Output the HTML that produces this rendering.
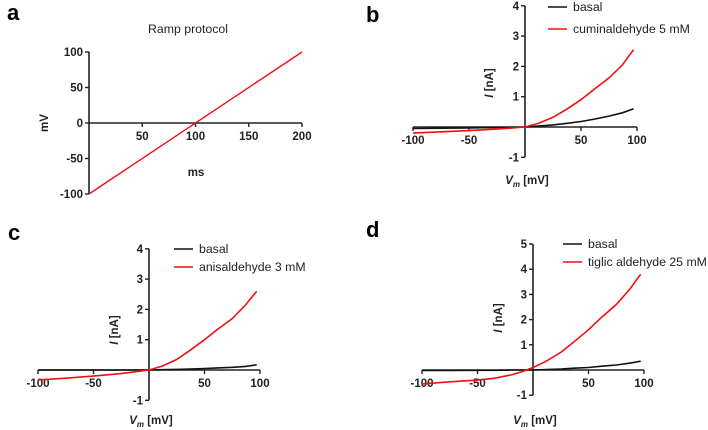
<!DOCTYPE html>
<html><head><meta charset="utf-8"><style>
body{margin:0;background:#fff}
svg{display:block;font-family:"Liberation Sans",Arial,sans-serif}
.t{font-size:11.5px;font-weight:bold;fill:#222}
.pl{font-size:22px;font-weight:bold;fill:#000}
.lg{font-size:12.3px;fill:#222}
</style></head><body>
<svg id="fig" width="708" height="430" viewBox="0 0 708 430"></svg>
<script>
// Panel a: ramp protocol
const rampMs=[0,200];
const rampMv=[-100,100];
const rampXTicks=[50,100,150,200];
const rampYTicks=[100,50,0,-50,-100];
// Panel b
const bV=[-100,-75,-50,-25,0,12,25,37,50,62,75,87,97];
const bRed=[-0.2,-0.16,-0.12,-0.07,0,0.12,0.32,0.58,0.9,1.25,1.62,2.05,2.55];
const bBlack=[-0.05,-0.04,-0.03,-0.015,0,0.03,0.07,0.12,0.18,0.26,0.36,0.47,0.6];
// Panel c
const cV=[-100,-75,-50,-25,0,12,25,37,50,62,75,87,97];
const cRed=[-0.33,-0.27,-0.2,-0.12,0,0.13,0.35,0.65,1.0,1.35,1.7,2.15,2.6];
const cBlack=[0,0,0,0,0,0.01,0.02,0.03,0.05,0.07,0.09,0.12,0.17];
// Panel d
const dV=[-100,-75,-50,-35,-20,-10,0,12,25,37,50,62,75,87,97];
const dRed=[-0.55,-0.47,-0.4,-0.33,-0.2,-0.07,0.1,0.35,0.7,1.12,1.6,2.1,2.6,3.2,3.8];
const dBlack=[-0.02,-0.02,-0.01,-0.01,0,0,0,0.02,0.04,0.07,0.1,0.15,0.2,0.27,0.35];
const ivXTicks=[-100,-50,50,100];

const NS="http://www.w3.org/2000/svg";
const svg=document.getElementById('fig');
function el(tag,attrs,parent){const e=document.createElementNS(NS,tag);for(const k in attrs)e.setAttribute(k,attrs[k]);(parent||svg).appendChild(e);return e;}
function txt(x,y,s,cls,anchor,parent){const t=el('text',{x:x,y:y,class:cls,'text-anchor':anchor||'start'},parent);t.textContent=s;return t;}

// Panel letters
[['a',7,20],['b',366,22],['c',8,240],['d',366,237]].forEach(p=>{
  const t=txt(p[1],p[2],p[0],'pl');
  
  
});

// ---------- Panel a ----------
(function(){
  const g=el('g',{});
  
  
  const x=v=>89+(v-0)*(302-89)/200;
  const y=v=>123-v*(71/100);
  const ttl=txt(188,33,'Ramp protocol','lg','middle',g);
  
  
  const ya=el('line',{x1:x(0),y1:y(100),x2:x(0),y2:y(-100),stroke:'#222','stroke-width':1.6},g);
  
  
  const xa=el('line',{x1:x(0),y1:y(0),x2:x(200),y2:y(0),stroke:'#222','stroke-width':1.6},g);
  
  
  rampYTicks.forEach(v=>{
    el('line',{x1:x(0)-4,y1:y(v),x2:x(0),y2:y(v),stroke:'#222','stroke-width':1.4},g);
    const t=txt(x(0)-6,y(v)+4,String(v),'t','end',g);
    
    
  });
  rampXTicks.forEach(v=>{
    el('line',{x1:x(v),y1:y(0),x2:x(v),y2:y(0)+4,stroke:'#222','stroke-width':1.4},g);
    const t=txt(x(v),y(0)+17,String(v),'t','middle',g);
    
    
  });
  const yl=txt(0,0,'mV','t','middle',g);
  yl.setAttribute('transform','translate(48,123) rotate(-90)');
  
  
  const xl=txt(196,176,'ms','t','middle',g);
  
  
  const ln=el('line',{x1:x(rampMs[0]),y1:y(rampMv[0]),x2:x(rampMs[1]),y2:y(rampMv[1]),stroke:'#f01010','stroke-width':1.4},g);
  
  
})();

// ---------- IV panels ----------
function ivPanel(o){
  const g=el('g',{});
  
  
  const x=v=>o.x0+v*(o.x100-o.x0)/100;
  const y=v=>o.y0-v*o.py;
  const ya=el('line',{x1:x(0),y1:y(o.ymax),x2:x(0),y2:y(-1),stroke:'#222','stroke-width':1.6},g);
  
  
  const xa=el('line',{x1:x(-100),y1:y(0),x2:x(100),y2:y(0),stroke:'#222','stroke-width':1.6},g);
  
  
  for(let v=-1;v<=o.ymax;v++){
    if(v===0) continue;
    el('line',{x1:x(0)-4,y1:y(v),x2:x(0),y2:y(v),stroke:'#222','stroke-width':1.4},g);
    const t=txt(x(0)-6,y(v)+4,String(v),'t','end',g);
    
    
  }
  ivXTicks.forEach(v=>{
    el('line',{x1:x(v),y1:y(0),x2:x(v),y2:y(0)+4,stroke:'#222','stroke-width':1.4},g);
    const t=txt(x(v),y(0)+17,String(v),'t','middle',g);
    
    
  });
  const yl=el('text',{class:'t','text-anchor':'middle',transform:'translate('+o.ylx+','+o.yly+') rotate(-90)'},g);
  yl.innerHTML='<tspan font-style="italic">I</tspan> [nA]';
  
  
  const xl=el('text',{x:x(0)+2,y:o.xly,class:'t','text-anchor':'middle'},g);
  xl.innerHTML='<tspan font-style="italic">V</tspan><tspan font-style="italic" font-size="8" dy="3">m</tspan><tspan dy="-3"> [mV]</tspan>';
  
  
  const pts=(vs,is)=>vs.map((v,i)=>x(v).toFixed(1)+','+y(is[i]).toFixed(1)).join(' ');
  const bl=el('polyline',{points:pts(o.v,o.black),fill:'none',stroke:'#111','stroke-width':1.6},g);
  
  
  const rd=el('polyline',{points:pts(o.v,o.red),fill:'none',stroke:'#f01010','stroke-width':1.6},g);
  
  
  // legend
  [['basal','#111',o.lgy],[o.label,'#f01010',o.lgy+o.lgdy]].forEach((e,i)=>{
    const lg=el('g',{},g);
    
    
    el('line',{x1:o.lgx,y1:e[2],x2:o.lgx+19,y2:e[2],stroke:e[1],'stroke-width':1.6},lg);
    txt(o.lgx+25,e[2]+4,e[0],'lg','start',lg);
  });
}
ivPanel({name:'panel-b-chart',x0:525,x100:637,y0:127,py:30.3,ymax:4,v:bV,red:bRed,black:bBlack,
  ylx:493,yly:83,xly:184,lgx:548,lgy:7,lgdy:22,label:'cuminaldehyde 5 mM'});
ivPanel({name:'panel-c-chart',x0:149,x100:260,y0:370,py:30.3,ymax:4,v:cV,red:cRed,black:cBlack,
  ylx:118,yly:330,xly:424,lgx:174,lgy:249,lgdy:18,label:'anisaldehyde 3 mM'});
ivPanel({name:'panel-d-chart',x0:533,x100:644,y0:370,py:25.2,ymax:5,v:dV,red:dRed,black:dBlack,
  ylx:502,yly:318,xly:424,lgx:563,lgy:244,lgdy:18,label:'tiglic aldehyde 25 mM'});
</script>
</body></html>
